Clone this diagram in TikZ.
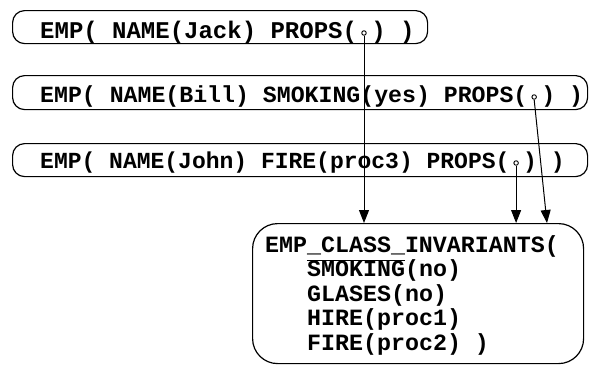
\documentclass[tikz,border=0pt]{standalone}
\usepackage{fontspec}
\newfontfamily\mono{Liberation Mono}
\usetikzlibrary{arrows.meta,calc}
\tikzset{
  pill/.style={draw, line width=1.2pt, rounded corners=12pt, inner sep=0pt, anchor=north west},
  txt/.style={anchor=base west, inner sep=0pt},
  ptr/.style={circle, draw, line width=0.9pt, inner sep=0pt, minimum size=4.5pt, fill=white},
  link/.style={line width=1pt, -{Triangle[length=13pt,width=10pt]}},
  invbox/.style={draw, line width=1.2pt, rounded corners=25pt, inner sep=0pt, anchor=north west},
}
\newcommand\fA{\fontsize{24}{28}\selectfont\mono\bfseries}
\newcommand\fB{\fontsize{23.2}{28}\selectfont\mono\bfseries}
\newcommand\fC{\fontsize{23}{28}\selectfont\mono\bfseries}
\newcommand\fD{\fontsize{23.3}{28}\selectfont\mono\bfseries}
\begin{document}
\begin{tikzpicture}[x=1pt,y=-1pt]
\useasboundingbox (0,0) rectangle (589,367);
% top boxes
\node[pill, minimum width=415pt, minimum height=33pt] (b1) at (12,10) {};
\node[txt, font=\fA] (t1) at (40,38) {EMP( NAME(Jack) PROPS(\hspace{0.6em}) )};
\node[ptr] (d1) at ($(t1.base west)+(22.5*14.4,-5)$) {};

\node[pill, minimum width=575pt, minimum height=34pt] (b2) at (12,75) {};
\node[txt, font=\fB] (t2) at (40,102) {EMP( NAME(Bill) SMOKING(yes) PROPS(\hspace{0.6em}) )};
\node[ptr] (d2) at ($(t2.base west)+(35.5*13.92,-5)$) {};

\node[pill, minimum width=575pt, minimum height=33pt] (b3) at (12,143) {};
\node[txt, font=\fC] (t3) at (40,168) {EMP( NAME(John) FIRE(proc3) PROPS(\hspace{0.6em}) )};
\node[ptr] (d3) at ($(t3.base west)+(34.5*13.8,-5)$) {};

% invariants box
\node[invbox, minimum width=331pt, minimum height=140pt] (inv) at (252,223) {};
\node[txt, font=\fD] (l1) at (265,252) {EMP\_CLASS\_INVARIANTS(};
\node[txt, font=\fD] (l2) at (307,276.5) {SMOKING(no)};
\node[txt, font=\fD] (l3) at (307,301) {GLASES(no)};
\node[txt, font=\fD] (l4) at (307,325.5) {HIRE(proc1)};
\node[txt, font=\fD] (l5) at (307,350) {FIRE(proc2) )};
\draw[line width=1pt] ($(l2.base west)+(0,-16.5)$) -- ++(7*13.98,0);

% connectors
\coordinate (e2) at ($(inv.north west)+(295,0)$);
\draw[link] (d1.south) -- (d1.south |- inv.north);
\draw[link] (d2.south) -- (e2);
\draw[link] (d3.south) -- (d3.south |- inv.north);
\end{tikzpicture}
\end{document}
